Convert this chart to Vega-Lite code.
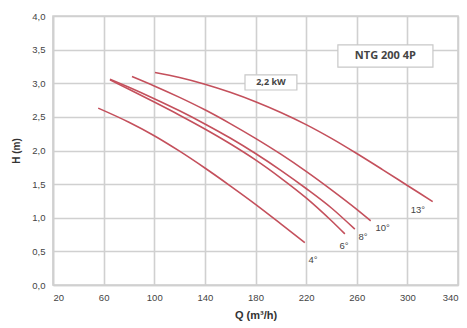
{
  "$schema": "https://vega.github.io/schema/vega-lite/v6.json",
  "autosize": "none",
  "width": 405,
  "height": 269,
  "padding": {"left": 53, "top": 16, "right": 9, "bottom": 43},
  "background": "white",
  "config": {
    "view": {"stroke": "#d0d0d0", "strokeWidth": 1.6},
    "font": "Liberation Sans",
    "axis": {
      "grid": true,
      "gridColor": "#d0d0d0",
      "gridWidth": 1.6,
      "gridOpacity": 1,
      "domain": true,
      "domainColor": "#d0d0d0",
      "domainWidth": 1.6,
      "ticks": false,
      "labelFontSize": 9.5,
      "labelColor": "#444",
      "labelOverlap": false,
      "titleFontWeight": "bold",
      "titleColor": "#333"
    }
  },
  "datasets": {
    "curves": [
      {"curve": "4°", "Q": 55.7, "H": 2.63},
      {"curve": "4°", "Q": 80, "H": 2.42},
      {"curve": "4°", "Q": 100, "H": 2.22},
      {"curve": "4°", "Q": 120, "H": 1.99},
      {"curve": "4°", "Q": 140, "H": 1.74},
      {"curve": "4°", "Q": 160, "H": 1.475},
      {"curve": "4°", "Q": 180, "H": 1.20},
      {"curve": "4°", "Q": 200, "H": 0.91},
      {"curve": "4°", "Q": 219, "H": 0.63},
      {"curve": "6°", "Q": 65, "H": 3.05},
      {"curve": "6°", "Q": 80, "H": 2.91},
      {"curve": "6°", "Q": 100, "H": 2.72},
      {"curve": "6°", "Q": 120, "H": 2.525},
      {"curve": "6°", "Q": 140, "H": 2.32},
      {"curve": "6°", "Q": 160, "H": 2.10},
      {"curve": "6°", "Q": 180, "H": 1.86},
      {"curve": "6°", "Q": 200, "H": 1.59},
      {"curve": "6°", "Q": 220, "H": 1.295},
      {"curve": "6°", "Q": 240, "H": 0.955},
      {"curve": "6°", "Q": 250.6, "H": 0.76},
      {"curve": "8°", "Q": 65, "H": 3.06},
      {"curve": "8°", "Q": 80, "H": 2.94},
      {"curve": "8°", "Q": 100, "H": 2.77},
      {"curve": "8°", "Q": 120, "H": 2.59},
      {"curve": "8°", "Q": 140, "H": 2.395},
      {"curve": "8°", "Q": 160, "H": 2.185},
      {"curve": "8°", "Q": 180, "H": 1.955},
      {"curve": "8°", "Q": 200, "H": 1.705},
      {"curve": "8°", "Q": 220, "H": 1.435},
      {"curve": "8°", "Q": 240, "H": 1.145},
      {"curve": "8°", "Q": 258.5, "H": 0.83},
      {"curve": "10°", "Q": 82.4, "H": 3.10},
      {"curve": "10°", "Q": 100, "H": 2.96},
      {"curve": "10°", "Q": 120, "H": 2.79},
      {"curve": "10°", "Q": 140, "H": 2.605},
      {"curve": "10°", "Q": 160, "H": 2.40},
      {"curve": "10°", "Q": 180, "H": 2.18},
      {"curve": "10°", "Q": 200, "H": 1.945},
      {"curve": "10°", "Q": 220, "H": 1.69},
      {"curve": "10°", "Q": 240, "H": 1.415},
      {"curve": "10°", "Q": 260, "H": 1.125},
      {"curve": "10°", "Q": 271, "H": 0.955},
      {"curve": "13°", "Q": 100.6, "H": 3.16},
      {"curve": "13°", "Q": 120, "H": 3.085},
      {"curve": "13°", "Q": 140, "H": 2.985},
      {"curve": "13°", "Q": 160, "H": 2.865},
      {"curve": "13°", "Q": 180, "H": 2.725},
      {"curve": "13°", "Q": 200, "H": 2.565},
      {"curve": "13°", "Q": 220, "H": 2.385},
      {"curve": "13°", "Q": 240, "H": 2.18},
      {"curve": "13°", "Q": 260, "H": 1.955},
      {"curve": "13°", "Q": 280, "H": 1.72},
      {"curve": "13°", "Q": 300, "H": 1.48},
      {"curve": "13°", "Q": 320, "H": 1.24}
    ],
    "labels": [
      {"label": "4°", "Q": 225.4, "H": 0.37},
      {"label": "6°", "Q": 249.9, "H": 0.58},
      {"label": "8°", "Q": 264.9, "H": 0.71},
      {"label": "10°", "Q": 280.5, "H": 0.85},
      {"label": "13°", "Q": 308.3, "H": 1.12}
    ],
    "boxes": [
      {"text": "2,2 kW", "Q": 171.7, "Q2": 212.7, "H": 2.90, "H2": 3.125, "Qc": 192.2, "Hc": 3.015, "size": 9},
      {"text": "NTG 200 4P", "Q": 245.1, "Q2": 320.2, "H": 3.24, "H2": 3.57, "Qc": 282.6, "Hc": 3.405, "size": 11}
    ]
  },
  "encoding": {
    "x": {
      "field": "Q", "type": "quantitative",
      "scale": {"domain": [20, 340], "nice": false, "zero": false},
      "axis": {
        "values": [20, 60, 100, 140, 180, 220, 260, 300, 340],
        "title": "Q (m³/h)",
        "titleFontSize": 11,
        "titlePadding": 8,
        "labelPadding": 7
      }
    },
    "y": {
      "field": "H", "type": "quantitative",
      "scale": {"domain": [0, 4], "nice": false},
      "axis": {
        "values": [0, 0.5, 1, 1.5, 2, 2.5, 3, 3.5, 4],
        "labelExpr": "replace(format(datum.value, '.1f'), '.', ',')",
        "title": "H (m)",
        "titleFontSize": 10,
        "titlePadding": 10,
        "labelPadding": 8
      }
    }
  },
  "layer": [
    {
      "data": {"name": "curves"},
      "mark": {"type": "line", "color": "#c4505c", "strokeWidth": 1.6, "interpolate": "monotone"},
      "encoding": {
        "detail": {"field": "curve", "type": "nominal"}
      }
    },
    {
      "data": {"name": "labels"},
      "mark": {"type": "text", "fontSize": 9.5, "color": "#444", "align": "center", "baseline": "middle"},
      "encoding": {
        "text": {"field": "label"}
      }
    },
    {
      "data": {"name": "boxes"},
      "mark": {"type": "rect", "fill": "white", "stroke": "#c8c8c8", "strokeWidth": 1.2},
      "encoding": {
        "x2": {"field": "Q2"},
        "y2": {"field": "H2"}
      }
    },
    {
      "data": {"name": "boxes"},
      "mark": {"type": "text", "fontWeight": "bold", "color": "#444", "align": "center", "baseline": "middle", "font": "Open Sans"},
      "encoding": {
        "x": {"field": "Qc", "type": "quantitative"},
        "y": {"field": "Hc", "type": "quantitative"},
        "text": {"field": "text"},
        "size": {"field": "size", "type": "quantitative", "scale": null}
      }
    }
  ]
}
